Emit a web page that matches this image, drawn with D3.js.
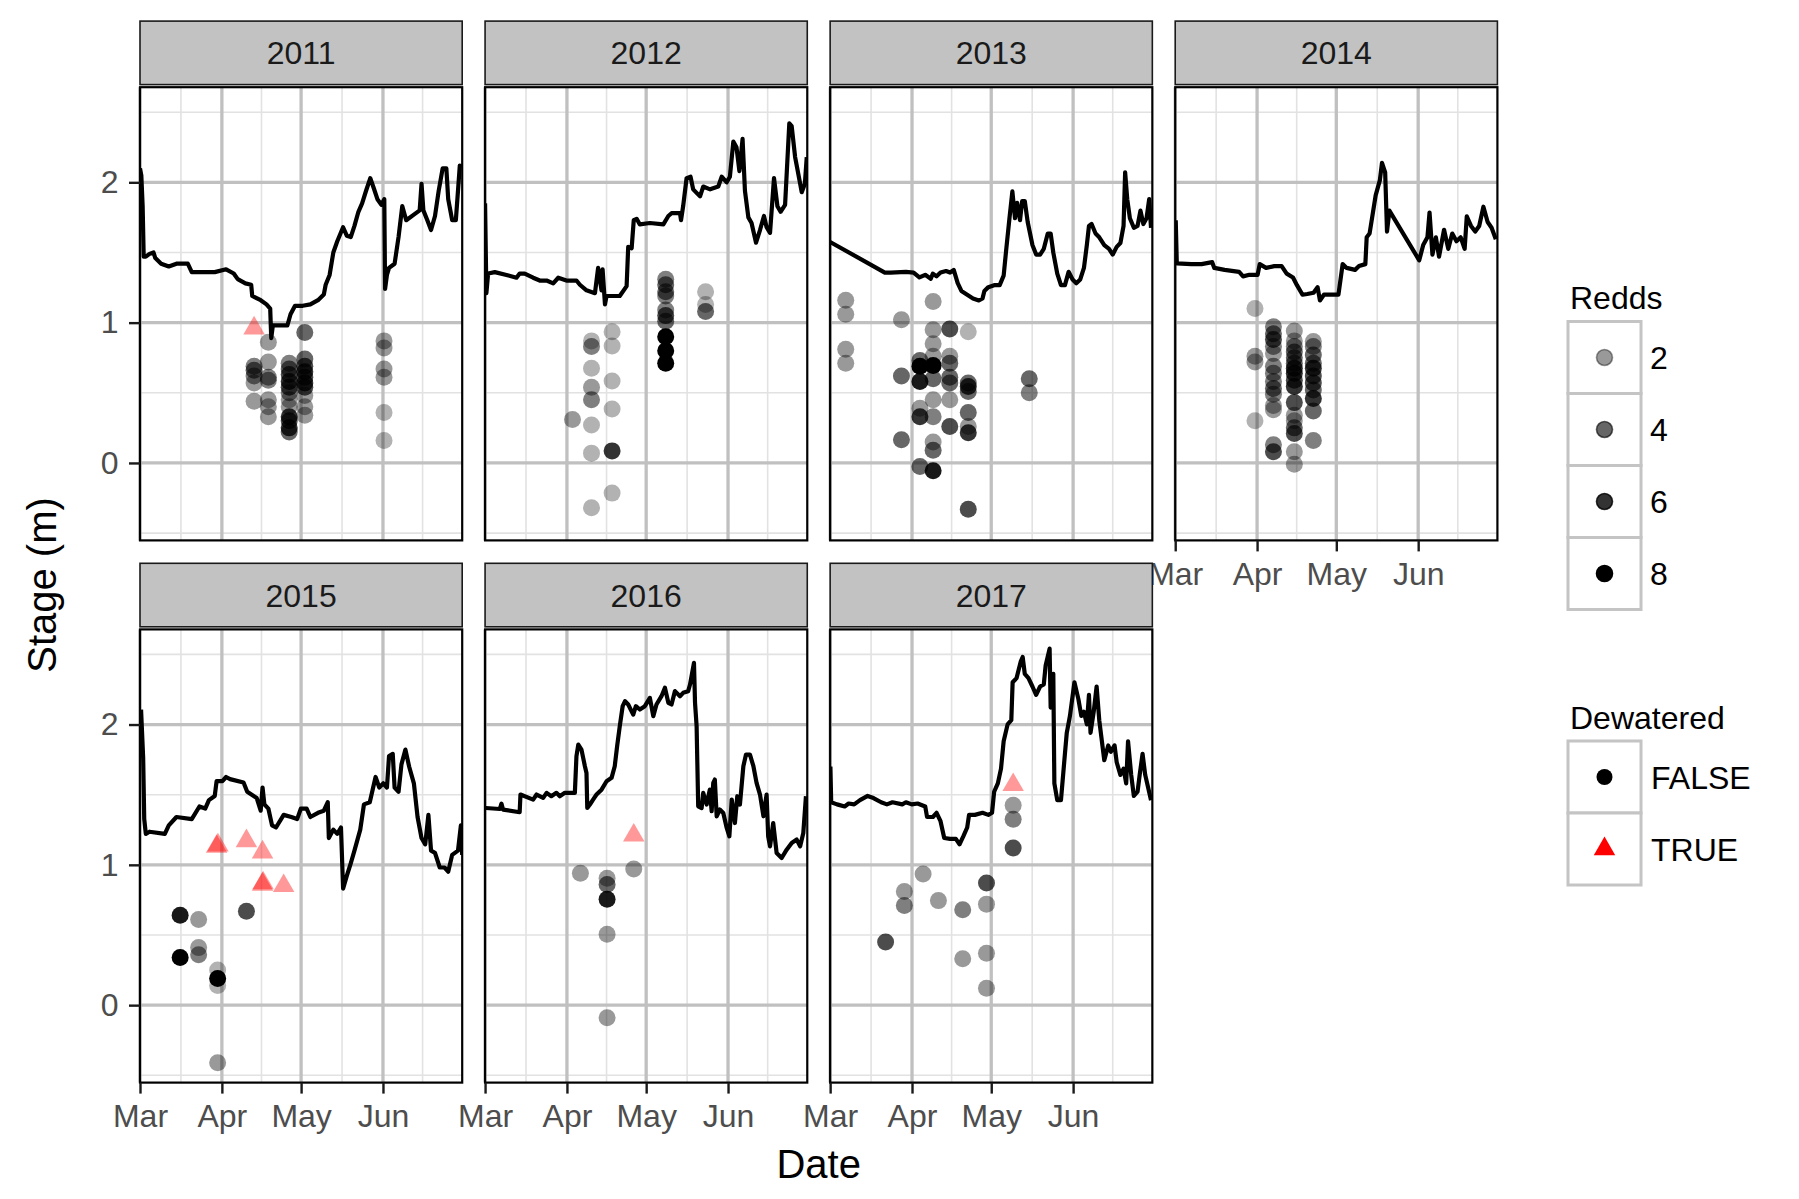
<!DOCTYPE html>
<html><head><meta charset="utf-8">
<script src="https://cdn.jsdelivr.net/npm/d3@7"></script>
<style>
body{margin:0;background:#fff;}
svg{display:block;font-family:"Liberation Sans",Arial,Helvetica,sans-serif;}
</style>
</head><body>
<svg id="chart" width="1799" height="1199"></svg>
<script>
// ---------------- data (day = days since 1 March; stage in metres) ----------------
const years = ["2011","2012","2013","2014","2015","2016","2017"];
const monthTicks = ["Mar","Apr","May","Jun"];
const yTicks = [0,1,2];
const yMinorTicks = [-0.5,0.5,1.5,2.5];
const reddsLegend = [2,4,6,8];
const dewateredLevels = ["FALSE","TRUE"];

const stage2011 = [[0,2.10],[0.5,2.05],[1.0,1.83],[1.4,1.47],[2.2,1.47],[3.6,1.49],[5.1,1.50],[5.8,1.46],[8.0,1.42],[10.9,1.40],[13.8,1.42],[18.1,1.42],[19.6,1.36],[22.5,1.36],[28.3,1.36],[32.6,1.38],[35.5,1.35],[37.0,1.31],[39.9,1.28],[42.1,1.27],[42.5,1.19],[45.7,1.16],[47.9,1.13],[49.3,1.10],[49.7,0.89],[50.3,0.98],[55.8,0.98],[57.0,1.06],[58.7,1.12],[61.6,1.12],[64.5,1.13],[67.4,1.16],[69.6,1.20],[70.3,1.27],[71.8,1.34],[73.2,1.50],[74.7,1.58],[76.9,1.68],[78.3,1.62],[79.8,1.61],[81.2,1.69],[82.7,1.79],[84.1,1.85],[85.6,1.94],[87.2,2.03],[88.5,1.96],[89.9,1.88],[91.4,1.84],[92.5,1.88],[92.8,1.24],[93.5,1.34],[94.3,1.39],[96.4,1.42],[97.9,1.61],[99.3,1.83],[100.8,1.73],[103.7,1.77],[105.9,1.80],[106.6,1.99],[107.3,1.80],[108.8,1.73],[110.2,1.66],[111.7,1.76],[113.1,1.94],[114.6,2.10],[116.0,2.10],[116.7,1.88],[118.2,1.73],[119.6,1.73],[121.1,2.12],[121.8,2.11]];
const stage2012 = [[0,1.85],[0.5,1.21],[1.15,1.35],[3.7,1.36],[8.1,1.34],[11.9,1.32],[13.1,1.35],[15.0,1.35],[18.2,1.32],[20.7,1.30],[23.3,1.30],[25.8,1.28],[27.7,1.32],[30.8,1.30],[34.6,1.30],[35.9,1.27],[38.4,1.23],[41.6,1.21],[42.8,1.39],[44.1,1.23],[44.5,1.38],[45.4,1.13],[46.0,1.19],[51.0,1.19],[53.6,1.26],[54.2,1.54],[55.5,1.53],[56.3,1.73],[57.4,1.74],[58.6,1.70],[62.4,1.71],[67.5,1.70],[69.4,1.76],[70.6,1.78],[73.8,1.78],[74.2,1.73],[75.0,1.83],[76.3,2.03],[77.8,2.04],[78.8,1.95],[81.4,1.90],[82.6,1.97],[85.2,1.95],[88.3,1.97],[89.6,2.04],[91.5,2.00],[92.7,2.04],[94.0,2.29],[95.2,2.25],[96.3,2.08],[97.5,2.31],[98.4,1.94],[99.7,1.75],[100.9,1.71],[102.6,1.57],[104.1,1.66],[105.6,1.76],[106.6,1.68],[107.9,1.64],[109.4,2.03],[110.7,1.83],[111.9,1.79],[113.6,1.84],[115.2,2.42],[116.1,2.40],[117.4,2.18],[118.6,2.06],[119.9,1.93],[121.1,1.99],[121.8,2.18]];
const stage2013 = [[0,1.575],[20.7,1.357],[22.9,1.357],[28.7,1.362],[31.6,1.357],[33.8,1.322],[36.0,1.341],[38.1,1.313],[38.9,1.349],[40.3,1.33],[41.8,1.357],[43.9,1.368],[45.4,1.357],[46.8,1.376],[48.3,1.281],[49.7,1.226],[51.9,1.199],[54.1,1.172],[56.3,1.158],[57.7,1.172],[58.4,1.226],[59.9,1.253],[62.1,1.267],[64.2,1.267],[65.7,1.335],[66.7,1.526],[67.9,1.744],[69.0,1.935],[70.0,1.744],[70.8,1.853],[71.9,1.73],[72.7,1.866],[73.7,1.866],[74.8,1.717],[76.6,1.553],[78.0,1.485],[79.5,1.485],[80.9,1.526],[82.4,1.635],[83.5,1.635],[84.5,1.499],[86.0,1.349],[87.4,1.267],[88.9,1.267],[90.3,1.362],[91.8,1.308],[93.2,1.281],[94.7,1.308],[96.1,1.39],[97.2,1.553],[98.0,1.689],[99.0,1.703],[100.5,1.635],[101.9,1.608],[103.8,1.553],[105.6,1.526],[107.0,1.485],[108.5,1.54],[109.9,1.567],[111.1,1.689],[111.7,2.071],[112.5,1.88],[113.5,1.744],[115.0,1.676],[116.4,1.689],[117.5,1.798],[118.6,1.703],[119.8,1.744],[120.8,1.88],[121.5,1.676]];
const stage2014 = [[0.2,1.73],[0.6,1.422],[6.1,1.417],[10.0,1.417],[14.0,1.431],[14.8,1.39],[18.7,1.376],[24.2,1.362],[25.7,1.33],[28.1,1.341],[31.2,1.341],[32.0,1.417],[34.4,1.39],[37.5,1.403],[40.3,1.403],[42.2,1.349],[44.6,1.322],[46.1,1.267],[48.2,1.199],[50.0,1.204],[52.4,1.213],[53.9,1.253],[54.8,1.158],[56.3,1.199],[61.8,1.199],[63.4,1.417],[64.9,1.39],[68.1,1.376],[69.6,1.403],[72.0,1.417],[72.5,1.608],[73.6,1.635],[75.9,1.907],[77.5,2.016],[78.3,2.139],[79.5,2.071],[80.2,1.649],[81.1,1.798],[92.4,1.444],[93.9,1.553],[95.5,1.608],[96.3,1.785],[97.4,1.485],[98.7,1.608],[99.9,1.471],[101.8,1.662],[103.4,1.526],[104.9,1.635],[106.5,1.58],[108.1,1.608],[109.6,1.526],[110.4,1.757],[112.0,1.689],[113.6,1.649],[115.1,1.689],[116.7,1.826],[118.3,1.717],[119.8,1.676],[121.4,1.594]];
const stage2015 = [[0.4,2.106],[1.2,1.761],[1.6,1.326],[2.2,1.221],[3.6,1.236],[9.4,1.221],[10.9,1.281],[13.8,1.341],[19.6,1.326],[22.5,1.416],[24.7,1.401],[26.1,1.461],[28.3,1.491],[29.0,1.596],[31.2,1.596],[32.6,1.626],[34.1,1.611],[39.2,1.587],[40.6,1.521],[44.2,1.476],[45.7,1.386],[46.4,1.551],[47.1,1.431],[48.6,1.401],[50.0,1.281],[51.5,1.266],[54.4,1.356],[57.3,1.341],[59.5,1.326],[60.9,1.401],[63.1,1.401],[64.5,1.341],[67.4,1.371],[69.6,1.386],[71.1,1.446],[71.5,1.191],[73.2,1.251],[74.7,1.221],[76.1,1.266],[76.9,0.831],[78.3,0.921],[79.8,1.011],[81.2,1.101],[83.4,1.251],[84.8,1.431],[87.0,1.446],[89.2,1.626],[90.6,1.551],[92.1,1.581],[93.5,1.551],[94.3,1.776],[95.7,1.791],[96.4,1.551],[97.9,1.521],[99.0,1.716],[100.5,1.821],[101.9,1.701],[103.7,1.581],[105.1,1.341],[106.6,1.191],[108.0,1.146],[109.2,1.356],[110.2,1.101],[111.7,1.086],[113.5,0.981],[115.3,0.981],[116.7,0.951],[118.2,1.071],[120.4,1.101],[121.5,1.281],[122,1.07]];
const stage2016 = [[0.3,1.405],[5.6,1.398],[6.2,1.436],[6.8,1.394],[13.1,1.375],[13.4,1.501],[18.2,1.465],[19.5,1.501],[22.0,1.477],[23.3,1.513],[25.1,1.489],[27.0,1.513],[28.3,1.489],[30.2,1.513],[34.0,1.513],[34.6,1.774],[35.3,1.857],[36.5,1.821],[37.8,1.703],[38.4,1.655],[38.7,1.405],[39.7,1.43],[40.9,1.465],[42.2,1.501],[44.1,1.536],[46.0,1.596],[47.9,1.62],[49.1,1.703],[50.0,1.846],[51.0,1.988],[52.1,2.131],[53.0,2.167],[54.2,2.143],[56.1,2.071],[57.1,2.131],[58.6,2.107],[60.5,2.131],[62.4,2.19],[63.7,2.06],[64.9,2.143],[66.8,2.202],[68.1,2.262],[69.4,2.155],[70.6,2.143],[71.9,2.238],[73.8,2.202],[75.0,2.226],[76.9,2.238],[77.6,2.285],[79.1,2.44],[79.5,2.155],[80.1,1.988],[80.7,1.417],[82.0,1.405],[82.6,1.513],[83.9,1.43],[85.1,1.536],[85.8,1.382],[86.4,1.584],[87.0,1.608],[87.7,1.346],[88.9,1.394],[90.2,1.37],[91.5,1.263],[92.5,1.203],[93.4,1.465],[94.6,1.298],[95.5,1.489],[96.5,1.43],[97.8,1.703],[98.8,1.786],[100.3,1.786],[101.6,1.703],[102.8,1.584],[104.1,1.501],[105.4,1.346],[106.6,1.501],[107.2,1.203],[107.9,1.132],[109.1,1.298],[110.4,1.084],[112.3,1.049],[114.2,1.108],[116.1,1.156],[118.0,1.18],[119.3,1.132],[120.5,1.227],[121.5,1.489]];
const stage2017 = [[0.1,1.701],[0.4,1.446],[2.6,1.431],[5.5,1.416],[7.0,1.437],[9.1,1.431],[11.3,1.461],[14.2,1.491],[16.4,1.476],[19.3,1.446],[21.5,1.431],[23.6,1.446],[27.3,1.431],[28.7,1.446],[30.9,1.431],[33.1,1.437],[36.0,1.416],[36.7,1.341],[38.9,1.341],[40.3,1.371],[41.8,1.311],[43.2,1.191],[45.4,1.185],[47.6,1.185],[49.0,1.146],[50.5,1.206],[51.9,1.266],[52.6,1.356],[54.8,1.356],[57.7,1.371],[59.9,1.356],[61.3,1.371],[62.1,1.521],[63.5,1.581],[64.7,1.686],[65.7,1.881],[67.2,2.001],[68.6,2.031],[69.1,2.301],[70.6,2.331],[72.2,2.451],[72.9,2.481],[73.7,2.361],[75.1,2.331],[76.6,2.271],[78.0,2.211],[79.5,2.271],[80.9,2.286],[81.6,2.421],[83.1,2.541],[83.5,2.121],[84.5,2.361],[84.9,1.581],[86.0,1.461],[87.4,1.461],[88.9,1.791],[89.6,1.941],[90.8,2.061],[92.5,2.301],[94.0,2.181],[95.1,2.061],[96.1,2.091],[97.2,2.001],[98.0,2.211],[98.6,1.941],[99.8,2.091],[100.9,2.271],[101.9,2.031],[103.8,1.746],[105.3,1.851],[106.3,1.806],[107.7,1.851],[108.5,1.731],[109.9,1.641],[111.1,1.686],[112.1,1.581],[112.8,1.881],[114.0,1.641],[115.0,1.491],[116.4,1.521],[117.2,1.641],[118.3,1.791],[119.3,1.641],[120.4,1.551],[121.5,1.461]];

// redd points: [day, stage, redds, dewatered (0 = FALSE, 1 = TRUE)]
const redds2011 = [[43.2,0.96,2,1],[43.2,0.69,3,0],[43.2,0.66,4,0],[43.2,0.62,3,0],[43.2,0.57,2,0],[43.2,0.44,2,0],[48.6,0.86,2,0],[48.6,0.72,2,0],[48.6,0.61,3,0],[48.6,0.59,3,0],[48.6,0.45,2,0],[48.6,0.40,2,0],[48.6,0.33,2,0],[56.5,0.71,3,0],[56.5,0.67,4,0],[56.5,0.63,5,0],[56.5,0.58,6,0],[56.5,0.54,5,0],[56.5,0.50,3,0],[56.5,0.45,2,0],[56.5,0.40,2,0],[56.5,0.33,6,0],[56.5,0.30,5,0],[56.5,0.25,6,0],[56.5,0.22,4,0],[62.4,0.93,4,0],[62.4,0.74,4,0],[62.4,0.69,5,0],[62.4,0.65,6,0],[62.4,0.61,5,0],[62.4,0.57,6,0],[62.4,0.54,5,0],[62.4,0.48,2,0],[62.4,0.40,2,0],[62.4,0.34,2,0],[92.4,0.87,2,0],[92.4,0.82,2,0],[92.4,0.67,2,0],[92.4,0.61,2,0],[92.4,0.36,1,0],[92.4,0.16,1,0]];
const redds2012 = [[33.1,0.31,2,0],[40.3,0.87,1,0],[40.3,0.83,3,0],[40.3,0.675,1,0],[40.3,0.54,2,0],[40.3,0.45,3,0],[40.3,0.27,1,0],[40.3,0.07,1,0],[40.3,-0.32,1,0],[48.1,0.935,1,0],[48.1,0.833,1,0],[48.1,0.584,1,0],[48.1,0.385,1,0],[48.1,0.086,6,0],[48.1,-0.215,1,0],[68.4,1.31,3,0],[68.4,1.27,4,0],[68.4,1.22,4,0],[68.4,1.19,3,0],[68.4,1.09,3,0],[68.4,1.05,5,0],[68.4,1.01,4,0],[68.4,0.90,8,0],[68.4,0.80,8,0],[68.4,0.71,8,0],[83.5,1.22,1,0],[83.5,1.13,1,0],[83.5,1.08,4,0]];
const redds2013 = [[5.9,1.16,2,0],[5.9,1.06,2,0],[5.9,0.81,2,0],[5.9,0.71,2,0],[27.0,1.02,2,0],[27.0,0.62,4,0],[27.0,0.165,4,0],[34.0,0.73,4,0],[34.0,0.69,8,0],[34.0,0.58,7,0],[34.0,0.39,2,0],[34.0,0.33,6,0],[34.0,-0.025,4,0],[39.0,1.15,2,0],[39.0,0.95,2,0],[39.0,0.85,2,0],[39.0,0.76,2,0],[39.0,0.695,8,0],[39.0,0.60,4,0],[39.0,0.45,2,0],[39.0,0.33,3,0],[39.0,0.15,2,0],[39.0,0.09,4,0],[39.0,-0.055,7,0],[45.3,0.955,5,0],[45.3,0.76,2,0],[45.3,0.71,4,0],[45.3,0.61,4,0],[45.3,0.57,4,0],[45.3,0.45,2,0],[45.3,0.26,5,0],[52.3,0.935,1,0],[52.3,0.57,4,0],[52.3,0.545,6,0],[52.3,0.51,4,0],[52.3,0.36,4,0],[52.3,0.26,2,0],[52.3,0.215,6,0],[52.3,-0.33,5,0],[75.4,0.60,4,0],[75.4,0.50,3,0]];
const redds2014 = [[30.2,1.10,1,0],[30.2,0.76,2,0],[30.2,0.72,2,0],[30.2,0.30,1,0],[37.2,0.97,3,0],[37.2,0.92,4,0],[37.2,0.88,5,0],[37.2,0.83,3,0],[37.2,0.78,2,0],[37.2,0.69,3,0],[37.2,0.64,3,0],[37.2,0.58,3,0],[37.2,0.53,4,0],[37.2,0.49,3,0],[37.2,0.41,2,0],[37.2,0.38,2,0],[37.2,0.13,3,0],[37.2,0.08,5,0],[45.1,0.94,2,0],[45.1,0.87,2,0],[45.1,0.83,3,0],[45.1,0.79,4,0],[45.1,0.75,4,0],[45.1,0.71,4,0],[45.1,0.675,6,0],[45.1,0.64,6,0],[45.1,0.59,5,0],[45.1,0.545,6,0],[45.1,0.43,5,0],[45.1,0.34,2,0],[45.1,0.30,2,0],[45.1,0.25,4,0],[45.1,0.21,5,0],[45.1,0.08,2,0],[45.1,-0.01,2,0],[52.3,0.865,2,0],[52.3,0.83,3,0],[52.3,0.77,4,0],[52.3,0.71,4,0],[52.3,0.675,6,0],[52.3,0.62,5,0],[52.3,0.57,5,0],[52.3,0.52,4,0],[52.3,0.46,6,0],[52.3,0.37,4,0],[52.3,0.16,3,0]];
const redds2015 = [[15.2,0.64,7,0],[15.2,0.34,8,0],[22.2,0.61,2,0],[22.2,0.41,2,0],[22.2,0.36,3,0],[29.4,0.25,1,0],[29.4,0.19,8,0],[29.4,0.14,1,0],[29.4,-0.41,2,0],[40.3,0.67,5,0],[29.0,1.13,2,1],[29.5,1.14,2,1],[40.3,1.17,2,1],[46.4,1.09,2,1],[46.4,0.86,2,1],[46.6,0.87,2,1],[54.4,0.85,2,1]];
const redds2016 = [[36.1,0.94,2,0],[46.2,0.905,2,0],[46.2,0.86,4,0],[46.2,0.755,7,0],[46.2,0.505,2,0],[46.2,-0.09,2,0],[56.3,0.97,2,0],[56.3,1.21,2,1]];
const redds2017 = [[21.0,0.45,5,0],[28.1,0.81,2,0],[28.1,0.71,3,0],[35.2,0.935,2,0],[41.0,0.745,2,0],[50.2,0.68,3,0],[50.2,0.33,2,0],[59.2,0.87,5,0],[59.2,0.72,2,0],[59.2,0.37,2,0],[59.2,0.12,2,0],[69.3,1.425,2,0],[69.3,1.325,3,0],[69.3,1.12,5,0],[69.3,1.57,2,1]];

const stageSeries = [stage2011,stage2012,stage2013,stage2014,stage2015,stage2016,stage2017];
const reddSeries = [redds2011,redds2012,redds2013,redds2014,redds2015,redds2016,redds2017];

// ---------------- layout ----------------
const svg = d3.select("#chart");
const panelW = 322.2, panelH = 453.2;
const left0 = 140, colStep = 345.07;
const rowTop = [87.2, 629.4];
const stripH = 63.5, stripGap = 2.6;
const FONT = 32;

const base = Date.UTC(2001, 2, 1);
const toDate = d => new Date(base + d * 864e5);

const x = d3.scaleUtc().domain([toDate(0), toDate(122)]).range([0, panelW]);
const y = d3.scaleLinear().domain([-0.552, 2.678]).range([panelH, 0]);
const alpha = d3.scaleLinear().domain([1, 8]).range([0.3, 1]);

const majorX = d3.utcMonth.range(toDate(0), toDate(122));          // Mar..Jun
const allX = d3.utcMonth.range(toDate(0), toDate(123));            // Mar..Jul
const minorX = d3.pairs(allX).map(([a,b]) => new Date((+a + +b) / 2));

const gridMajor = "#c0c0c0", gridMinor = "#e2e2e2";
const triPath = d3.symbol(d3.symbolTriangle, 200)();
const line = d3.line().x(d => x(toDate(d[0]))).y(d => y(d[1]));

const defs = svg.append("defs");

years.forEach((yr, i) => {
  const col = i % 4, row = Math.floor(i / 4);
  const px = left0 + col * colStep, py = rowTop[row];
  const g = svg.append("g").attr("transform", `translate(${px},${py})`);

  // strip
  g.append("rect").attr("x", 0).attr("y", -stripGap - stripH).attr("width", panelW).attr("height", stripH)
    .attr("fill", "#c2c2c2").attr("stroke", "#1a1a1a").attr("stroke-width", 1.6);
  g.append("text").attr("x", panelW / 2).attr("y", -stripGap - stripH / 2).attr("dy", "0.36em")
    .attr("text-anchor", "middle").attr("font-size", FONT).attr("fill", "#1a1a1a").text(yr);

  // background
  g.append("rect").attr("width", panelW).attr("height", panelH).attr("fill", "#fff");

  // grid
  g.selectAll(".gxm").data(minorX).join("line")
    .attr("x1", d => x(d)).attr("x2", d => x(d)).attr("y1", 0).attr("y2", panelH)
    .attr("stroke", gridMinor).attr("stroke-width", 1.6);
  g.selectAll(".gym").data(yMinorTicks).join("line")
    .attr("x1", 0).attr("x2", panelW).attr("y1", d => y(d)).attr("y2", d => y(d))
    .attr("stroke", gridMinor).attr("stroke-width", 1.6);
  g.selectAll(".gxM").data(majorX).join("line")
    .attr("x1", d => x(d)).attr("x2", d => x(d)).attr("y1", 0).attr("y2", panelH)
    .attr("stroke", gridMajor).attr("stroke-width", 3.3);
  g.selectAll(".gyM").data(yTicks).join("line")
    .attr("x1", 0).attr("x2", panelW).attr("y1", d => y(d)).attr("y2", d => y(d))
    .attr("stroke", gridMajor).attr("stroke-width", 3.3);

  // clip
  const cid = "clip" + yr;
  defs.append("clipPath").attr("id", cid).append("rect").attr("width", panelW).attr("height", panelH);
  const plot = g.append("g").attr("clip-path", `url(#${cid})`);

  plot.append("path").datum(stageSeries[i]).attr("d", line)
    .attr("fill", "none").attr("stroke", "#000").attr("stroke-width", 4.2).attr("stroke-linejoin", "round");

  const pts = reddSeries[i];
  plot.selectAll("circle.pt").data(pts.filter(d => d[3] === 0)).join("circle")
    .attr("class", "pt")
    .attr("cx", d => x(toDate(d[0]))).attr("cy", d => y(d[1])).attr("r", 8.5)
    .attr("fill", "#000").attr("fill-opacity", d => alpha(d[2]));
  plot.selectAll("path.tri").data(pts.filter(d => d[3] === 1)).join("path")
    .attr("class", "tri").attr("d", triPath)
    .attr("transform", d => `translate(${x(toDate(d[0]))},${y(d[1])})`)
    .attr("fill", "#ff0000").attr("fill-opacity", d => alpha(d[2]));

  // border
  g.append("rect").attr("width", panelW).attr("height", panelH).attr("fill", "none")
    .attr("stroke", "#000").attr("stroke-width", 2.2);

  // axes
  if (col === 0) {
    const ax = g.append("g").call(d3.axisLeft(y).tickValues(yTicks).tickFormat(d3.format("d")).tickSize(11).tickPadding(10.5));
    ax.select(".domain").remove();
    ax.selectAll(".tick line").attr("stroke", "#1a1a1a").attr("stroke-width", 2.4);
    ax.selectAll(".tick text").attr("font-size", FONT).attr("fill", "#4d4d4d").attr("font-family", null);
  }
  if (row === 1 || i === 3) {
    const ax = g.append("g").attr("transform", `translate(0,${panelH})`)
      .call(d3.axisBottom(x).tickValues(majorX).tickFormat((d, k) => monthTicks[k]).tickSize(11).tickPadding(11));
    ax.select(".domain").remove();
    ax.selectAll(".tick line").attr("stroke", "#1a1a1a").attr("stroke-width", 2.4);
    ax.selectAll(".tick text").attr("font-size", FONT).attr("fill", "#4d4d4d").attr("font-family", null);
  }
});

// axis titles
svg.append("text").attr("x", left0 + (3 * colStep + panelW) / 2).attr("y", 1178)
  .attr("text-anchor", "middle").attr("font-size", 40).attr("fill", "#000").text("Date");
svg.append("text").attr("transform", "translate(55.5,585) rotate(-90)")
  .attr("text-anchor", "middle").attr("font-size", 40).attr("fill", "#000").text("Stage (m)");

// ---------------- legends ----------------
const keyX = 1568, keyW = 73, keyH = 72;
const lg1 = svg.append("g");
lg1.append("text").attr("x", 1570).attr("y", 309).attr("font-size", FONT).attr("fill", "#000").text("Redds");
reddsLegend.forEach((v, k) => {
  const ky = 321.5 + k * keyH;
  lg1.append("rect").attr("x", keyX).attr("y", ky).attr("width", keyW).attr("height", keyH)
    .attr("fill", "#fff").attr("stroke", "#c4c4c4").attr("stroke-width", 3);
  lg1.append("circle").attr("cx", keyX + keyW / 2).attr("cy", ky + keyH / 2).attr("r", 8)
    .attr("fill", "#000").attr("fill-opacity", alpha(v))
    .attr("stroke", "#000").attr("stroke-opacity", alpha(v)).attr("stroke-width", 1.6);
  lg1.append("text").attr("x", 1650).attr("y", ky + keyH / 2).attr("dy", "0.36em")
    .attr("font-size", FONT).attr("fill", "#000").text(v);
});

const lg2 = svg.append("g");
lg2.append("text").attr("x", 1570).attr("y", 729).attr("font-size", FONT).attr("fill", "#000").text("Dewatered");
dewateredLevels.forEach((v, k) => {
  const ky = 741 + k * keyH;
  lg2.append("rect").attr("x", keyX).attr("y", ky).attr("width", keyW).attr("height", keyH)
    .attr("fill", "#fff").attr("stroke", "#c4c4c4").attr("stroke-width", 3);
  if (v === "FALSE") {
    lg2.append("circle").attr("cx", keyX + keyW / 2).attr("cy", ky + keyH / 2).attr("r", 8).attr("fill", "#000");
  } else {
    lg2.append("path").attr("d", d3.symbol(d3.symbolTriangle, 200)())
      .attr("transform", `translate(${keyX + keyW / 2},${ky + keyH / 2})`).attr("fill", "#ff0000");
  }
  lg2.append("text").attr("x", 1651).attr("y", ky + keyH / 2).attr("dy", "0.36em")
    .attr("font-size", FONT).attr("fill", "#000").text(v);
});
</script>
</body></html>
